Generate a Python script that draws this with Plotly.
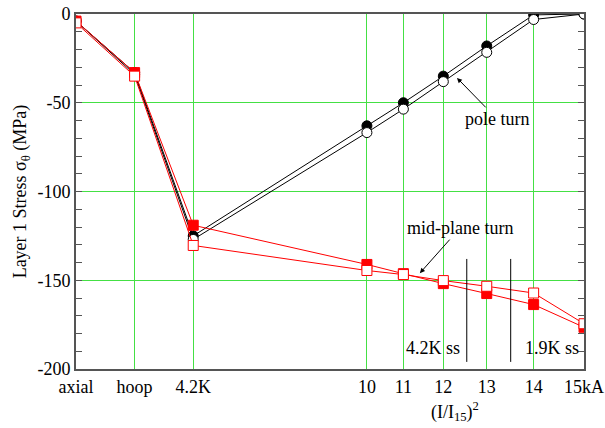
import plotly.graph_objects as go

# Category labels along the x axis
cat_labels = ["axial", "hoop", "4.2K"]
cat_pos = [-0.30, -0.15, 0.0]          # axis positions of the non-current categories
currents_kA = [10, 11, 12, 13, 14, 15]  # currents, placed at (I/I15)^2
current_labels = ["10", "11", "12", "13", "14", "15kA"]

# Layer 1 stress (MPa)
pole_filled = [-4, -33, -125, -63, -50, -35, -18, -0.5, 0]
pole_open = [-4, -34, -127, -66.8, -53.6, -38.1, -21.6, -3.1, 0]
mid_filled = [-4, -33, -119, -141.1, -146.3, -151.9, -157.5, -163.7, -176.5]
mid_open = [-5, -35, -130.4, -144.5, -146.8, -150.2, -153.4, -157.2, -174.5]

y_ticks = [0, -50, -100, -150, -200]
y_ticktext = ["0", "-50", "-100", "-150", "-200"]

ss_currents = [12.55, 13.52]
ss_labels = ["4.2K ss", "1.9K ss"]

I15 = 15.0
xs = cat_pos + [(i / I15) ** 2 for i in currents_kA]
ticktext = cat_labels + current_labels

FONT = "Liberation Serif"
GREEN = "#44e044"
RED = "#ff0000"

fig = go.Figure()
fig.add_trace(go.Scatter(x=xs, y=pole_filled, mode="lines+markers",
                         line=dict(color="black", width=1),
                         marker=dict(symbol="circle", size=10, color="black",
                                     line=dict(color="black", width=1))))
fig.add_trace(go.Scatter(x=xs, y=pole_open, mode="lines+markers",
                         line=dict(color="black", width=1),
                         marker=dict(symbol="circle", size=10, color="white",
                                     line=dict(color="black", width=1))))
fig.add_trace(go.Scatter(x=xs, y=mid_filled, mode="lines+markers",
                         line=dict(color=RED, width=1),
                         marker=dict(symbol="square", size=10, color=RED,
                                     line=dict(color=RED, width=1))))
fig.add_trace(go.Scatter(x=xs, y=mid_open, mode="lines+markers",
                         line=dict(color=RED, width=1),
                         marker=dict(symbol="square", size=10, color="white",
                                     line=dict(color=RED, width=1))))

# steady-state markers
for I in ss_currents:
    xv = (I / I15) ** 2
    fig.add_shape(type="line", x0=xv, x1=xv, y0=-138, y1=-196,
                  xref="x", yref="y", line=dict(color="black", width=1))
fig.add_annotation(x=0.613, y=-188, text=ss_labels[0], showarrow=False,
                   font=dict(family=FONT, size=18, color="black"))
fig.add_annotation(x=0.918, y=-188, text=ss_labels[1], showarrow=False,
                   font=dict(family=FONT, size=18, color="black"))

fig.add_annotation(x=0.675, y=-36, text="pole turn", showarrow=True,
                   ax=40, ay=41, arrowhead=2, arrowsize=1, arrowwidth=1,
                   arrowcolor="black",
                   font=dict(family=FONT, size=18, color="black"))
fig.add_annotation(x=0.58, y=-146, text="mid-plane turn", showarrow=True,
                   ax=40, ay=-45, arrowhead=2, arrowsize=1, arrowwidth=1,
                   arrowcolor="black",
                   font=dict(family=FONT, size=18, color="black"))

# x-axis title (placed off-centre as in the reference)
fig.add_annotation(x=0.746, y=-0.121, xref="paper", yref="paper",
                   text="(I/I<sub>15</sub>)<sup>2</sup>", showarrow=False,
                   xanchor="center", yanchor="middle",
                   font=dict(family=FONT, size=18, color="black"))

fig.update_layout(
    width=605, height=428,
    margin=dict(l=76, r=21, t=14, b=59, autoexpand=False),
    paper_bgcolor="white", plot_bgcolor="white",
    showlegend=False,
    font=dict(family=FONT, size=18, color="black"),
)
fig.update_xaxes(
    range=[-0.30, 1.0], tickvals=xs, ticktext=ticktext,
    showgrid=True, gridcolor=GREEN, gridwidth=1,
    showline=True, linecolor="#555555", linewidth=2, mirror=True,
    ticks="", zeroline=False, automargin=False,
    tickfont=dict(family=FONT, size=18),
)
fig.update_yaxes(
    range=[-200, 0], tickvals=y_ticks, ticktext=y_ticktext,
    showgrid=True, gridcolor=GREEN, gridwidth=1,
    showline=True, linecolor="#555555", linewidth=2, mirror="ticks",
    ticks="inside", ticklen=6, tickcolor="#555555",
    minor=dict(dtick=10, ticks="inside", ticklen=6, tickcolor="#555555", showgrid=False),
    zeroline=False, automargin=False,
    title=dict(text="Layer 1 Stress σ<sub>θ</sub> (MPa)", standoff=6,
               font=dict(family=FONT, size=18)),
    tickfont=dict(family=FONT, size=18),
)

fig.write_html("out.html")
